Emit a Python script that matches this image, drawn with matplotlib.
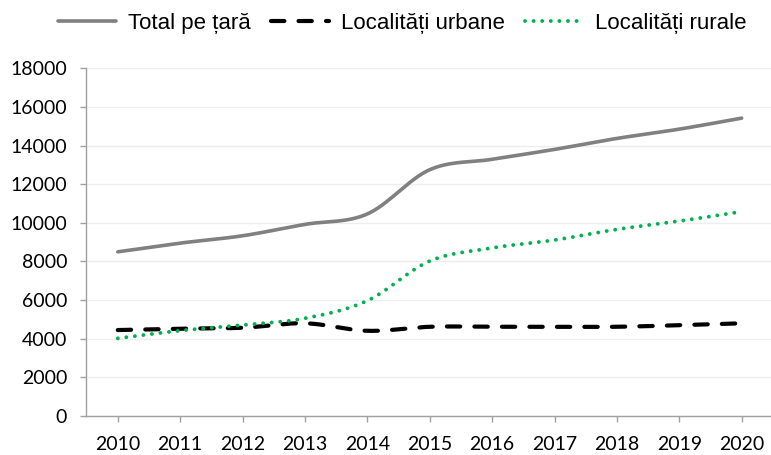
import matplotlib
matplotlib.use("Agg")
import matplotlib.pyplot as plt
from matplotlib.lines import Line2D
import numpy as np

years = [2010, 2011, 2012, 2013, 2014, 2015, 2016, 2017, 2018, 2019, 2020]
total = [8500, 8950, 9330, 9920, 10460, 12750, 13290, 13800, 14370, 14850, 15420]
urban = [4450, 4520, 4570, 4800, 4410, 4620, 4620, 4620, 4620, 4700, 4800]
rural = [4020, 4420, 4710, 5060, 5970, 8020, 8700, 9110, 9660, 10090, 10580]
labels = ["Total pe țară", "Localități urbane", "Localități rurale"]
yticks = list(range(0, 18001, 2000))


# Excel-style smoothed line: cubic bezier through each point
def smooth(x, y, n=30):
    x = np.asarray(x, float)
    y = np.asarray(y, float)
    px = np.concatenate([[x[0]], x, [x[-1]]])
    py = np.concatenate([[y[0]], y, [y[-1]]])
    xs, ys = [], []
    t = np.linspace(0, 1, n)
    for i in range(1, len(x)):
        p0 = np.array([px[i], py[i]])
        p3 = np.array([px[i + 1], py[i + 1]])
        c1 = p0 + (p3 - np.array([px[i - 1], py[i - 1]])) / 6
        c2 = p3 - (np.array([px[i + 2], py[i + 2]]) - p0) / 6
        seg = ((1 - t) ** 3)[:, None] * p0 + (3 * (1 - t) ** 2 * t)[:, None] * c1 \
            + (3 * (1 - t) * t ** 2)[:, None] * c2 + (t ** 3)[:, None] * p3
        xs.append(seg[:, 0])
        ys.append(seg[:, 1])
    return np.concatenate(xs), np.concatenate(ys)


fig = plt.figure(figsize=(7.71, 4.55), dpi=100)
ax = fig.add_axes([0.1115, 0.0857, 0.8885, 0.7642])

styles = [
    dict(color="#808080", lw=2.6, solid_capstyle="round"),
    dict(color="black", lw=3.0, dashes=(3.2, 3.4), dash_capstyle="round"),
    dict(color="#00B050", lw=2.8, dashes=(0.01, 2.2), dash_capstyle="round"),
]

for vals, st in zip([total, urban, rural], styles):
    sx, sy = smooth(years, vals)
    ax.plot(sx, sy, **st)

ax.set_xlim(2009.49, 2020.47)
ax.set_ylim(0, 18000)
ax.set_xticks(years)
ax.set_xticklabels([str(y) for y in years])
ax.set_yticks(yticks)
ax.set_yticklabels([str(v) for v in yticks])

ax.grid(axis="y", color="#EDEDED", lw=1)
ax.set_axisbelow(True)
for s in ["top", "right"]:
    ax.spines[s].set_visible(False)
for s in ["left", "bottom"]:
    ax.spines[s].set_color("#A0A0A0")
    ax.spines[s].set_linewidth(1)

ax.tick_params(axis="both", colors="#A0A0A0", length=4.5, width=1,
               labelcolor="#000000", labelsize=14)
ax.tick_params(axis="y", pad=9)
ax.tick_params(axis="x", pad=10)
for lab in ax.get_xticklabels() + ax.get_yticklabels():
    lab.set_family("Lato")

handles = [Line2D([], [], **st) for st in styles]
fig.legend(handles, labels, loc="center", bbox_to_anchor=(0.522, 0.948),
           ncol=3, frameon=False, handlelength=2.6, handletextpad=0.55,
           columnspacing=0.9, prop={"family": "Liberation Sans", "size": 16})

fig.savefig("out.png", dpi=100)
